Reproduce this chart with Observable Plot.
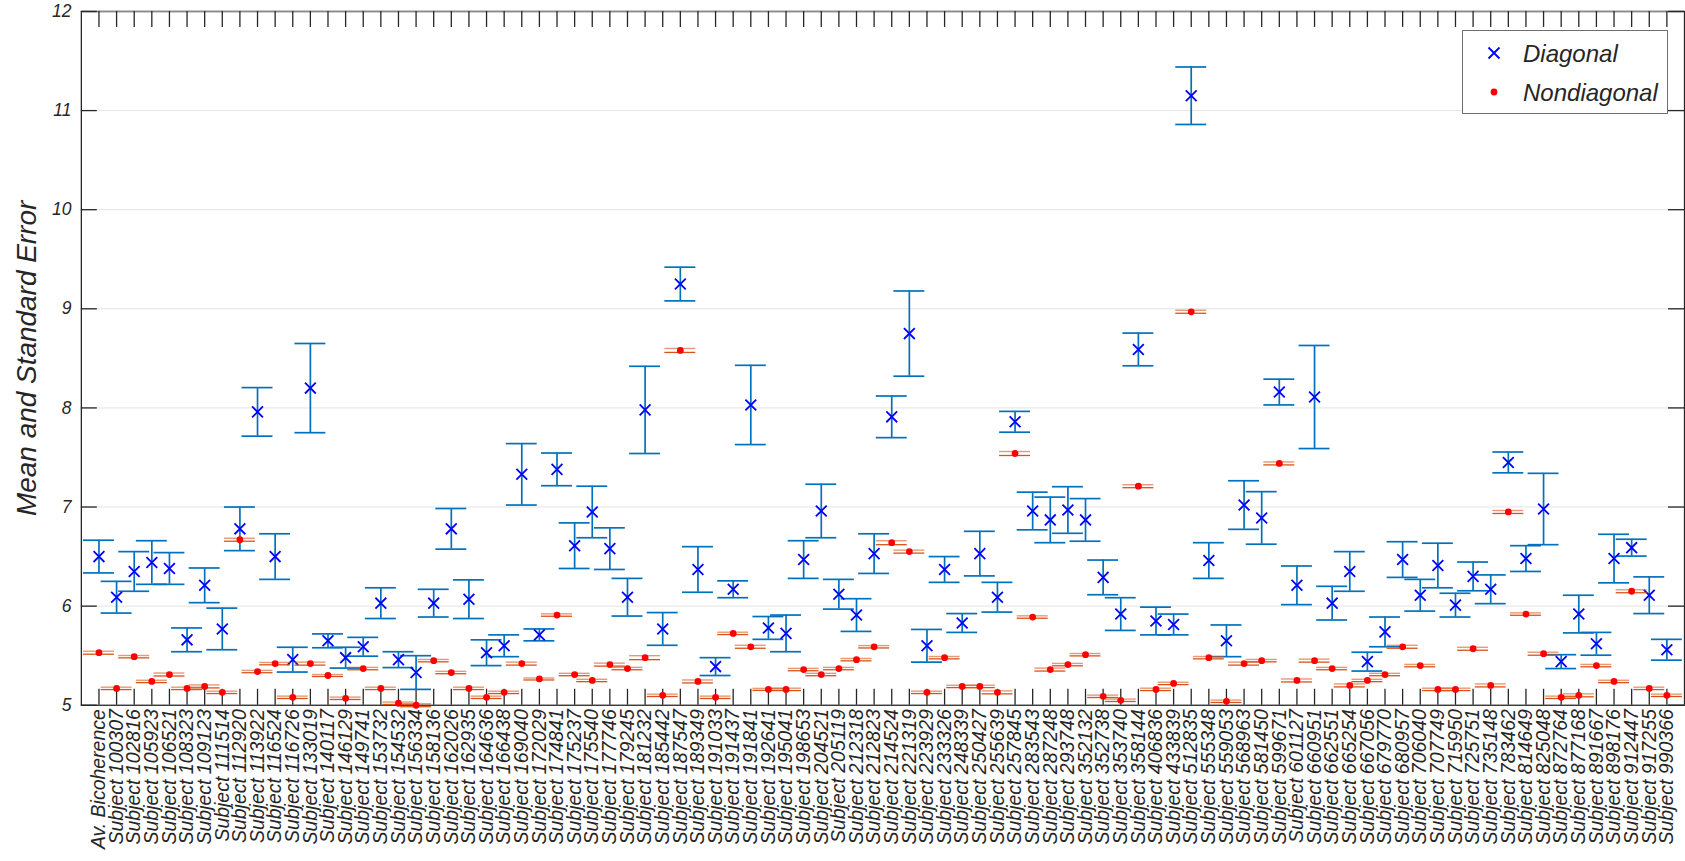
<!DOCTYPE html>
<html>
<head>
<meta charset="utf-8">
<script src="https://cdn.jsdelivr.net/npm/d3@7"></script>
<script src="https://cdn.jsdelivr.net/npm/@observablehq/plot@0.6"></script>
<style>
html, body { margin: 0; padding: 0; overflow: hidden; background: #fff; }
#wrap { position: relative; width: 1685px; height: 861px; overflow: hidden; }
#legend { position: absolute; left: 1462px; top: 30px; width: 206px; height: 84px; }
#legend text { font-family: "Liberation Sans", Arial, sans-serif; font-style: italic; font-size: 24px; fill: #262626; }
</style>
</head>
<body>
<div id="wrap">
  <div id="chart"></div>
  <div id="legend">
    <svg width="206" height="84">
      <rect x="0.5" y="0.5" width="205" height="83" fill="#ffffff" stroke="#6f6f6f" stroke-width="1"></rect>
      <path d="M26.5,17.5 L37.5,28.5 M26.5,28.5 L37.5,17.5" stroke="#0000ff" stroke-width="1.8" fill="none"></path>
      <circle cx="32" cy="62" r="3.4" fill="#ff0000"></circle>
      <text x="61" y="32">Diagonal</text>
      <text x="61" y="71">Nondiagonal</text>
    </svg>
  </div>
</div>
<script>
// ---- Data ----
const subjectIds = [
  "100307","102816","105923","106521","108323","109123","111514","112920","113922","116524",
  "116726","133019","140117","146129","149741","153732","154532","156334","158136","162026",
  "162935","164636","166438","169040","172029","174841","175237","175540","177746","179245",
  "181232","185442","187547","189349","191033","191437","191841","192641","195041","198653",
  "204521","205119","212318","212823","214524","221319","223929","233326","248339","250427",
  "255639","257845","283543","287248","293748","352132","352738","353740","358144","406836",
  "433839","512835","555348","559053","568963","581450","599671","601127","660951","662551",
  "665254","667056","679770","680957","706040","707749","715950","725751","735148","783462",
  "814649","825048","872764","877168","891667","898176","912447","917255","990366"
];
const categories = ["Av. Bicoherence", ...subjectIds.map(s => "Subject " + s)];

const diagonalMean = [
  6.50, 6.09, 6.35, 6.44, 6.38, 5.66, 6.21, 5.77, 6.78, 7.96,
  6.50, 5.46, 8.20, 5.65, 5.48, 5.59, 6.03, 5.46, 5.33, 6.03,
  6.78, 6.07, 5.53, 5.60, 7.33, 5.71, 7.38, 6.61, 6.95, 6.58,
  6.09, 7.98, 5.77, 9.25, 6.37, 5.39, 6.17, 8.03, 5.78, 5.725,
  6.47, 6.96, 6.12, 5.91, 6.53, 7.91, 8.75, 5.60, 6.37, 5.83,
  6.53, 6.09, 7.86, 6.96, 6.87, 6.97, 6.87, 6.29, 5.92, 8.59,
  5.85, 5.815, 11.15, 6.46, 5.65, 7.02, 6.89, 8.16, 6.21, 8.11,
  6.03, 6.35, 5.44, 5.74, 6.47, 6.11, 6.41, 6.01, 6.30, 6.17,
  7.45, 6.48, 6.98, 5.44, 5.92, 5.62, 6.48, 6.59, 6.11, 5.56
];
const diagonalSE = [
  0.165, 0.16, 0.20, 0.22, 0.16, 0.12, 0.175, 0.21, 0.22, 0.245,
  0.23, 0.125, 0.45, 0.07, 0.105, 0.095, 0.155, 0.08, 0.17, 0.14,
  0.205, 0.195, 0.13, 0.11, 0.31, 0.06, 0.165, 0.23, 0.26, 0.21,
  0.19, 0.44, 0.165, 0.17, 0.23, 0.09, 0.085, 0.40, 0.115, 0.185,
  0.19, 0.27, 0.15, 0.165, 0.20, 0.21, 0.43, 0.165, 0.13, 0.095,
  0.225, 0.15, 0.105, 0.19, 0.23, 0.235, 0.215, 0.175, 0.165, 0.165,
  0.14, 0.105, 0.29, 0.18, 0.16, 0.245, 0.265, 0.13, 0.195, 0.52,
  0.17, 0.20, 0.095, 0.15, 0.18, 0.16, 0.225, 0.12, 0.145, 0.145,
  0.105, 0.13, 0.36, 0.07, 0.19, 0.115, 0.245, 0.085, 0.185, 0.105
];
const nondiagonalMean = [
  5.53, 5.17, 5.49, 5.24, 5.31, 5.17, 5.19, 5.13, 6.67, 5.34,
  5.42, 5.08, 5.42, 5.30, 5.07, 5.37, 5.17, 5.02, 5.00, 5.45,
  5.33, 5.17, 5.08, 5.13, 5.42, 5.265, 5.91, 5.31, 5.25, 5.41,
  5.37, 5.48, 5.10, 8.58, 5.24, 5.08, 5.725, 5.59, 5.16, 5.16,
  5.36, 5.31, 5.37, 5.46, 5.59, 6.64, 6.55, 5.13, 5.48, 5.19,
  5.19, 5.13, 7.54, 5.89, 5.36, 5.41, 5.51, 5.09, 5.05, 7.21,
  5.16, 5.22, 8.97, 5.48, 5.04, 5.42, 5.45, 7.44, 5.25, 5.45,
  5.37, 5.20, 5.25, 5.31, 5.59, 5.40, 5.16, 5.16, 5.57, 5.20,
  6.95, 5.92, 5.52, 5.08, 5.10, 5.40, 5.24, 6.15, 5.17, 5.10
];
const nondiagonalSE = [
  0.015, 0.012, 0.012, 0.012, 0.015, 0.012, 0.015, 0.012, 0.015, 0.012,
  0.012, 0.012, 0.015, 0.010, 0.012, 0.012, 0.012, 0.012, 0.015, 0.012,
  0.012, 0.012, 0.012, 0.012, 0.015, 0.010, 0.012, 0.012, 0.012, 0.015,
  0.012, 0.020, 0.012, 0.020, 0.015, 0.012, 0.012, 0.015, 0.010, 0.012,
  0.012, 0.012, 0.012, 0.012, 0.012, 0.020, 0.015, 0.012, 0.012, 0.012,
  0.012, 0.015, 0.020, 0.012, 0.015, 0.012, 0.012, 0.012, 0.012, 0.015,
  0.012, 0.012, 0.015, 0.012, 0.012, 0.015, 0.012, 0.015, 0.015, 0.015,
  0.012, 0.015, 0.012, 0.012, 0.015, 0.012, 0.012, 0.012, 0.015, 0.015,
  0.015, 0.012, 0.015, 0.012, 0.015, 0.012, 0.012, 0.015, 0.012, 0.012
];
const yTicks = [5, 6, 7, 8, 9, 10, 11, 12];
const gridValues = [6, 7, 8, 9, 10, 11];
const yLabel = "Mean and Standard Error";

// ---- Table ----
const rows = categories.map((c, i) => ({
  c, dm: diagonalMean[i], ds: diagonalSE[i], nm: nondiagonalMean[i], ns: nondiagonalSE[i]
}));

const W = 1688, H = 861, mL = 81, mR = 1, mT = 11, mB = 155;
const innerW = W - mL - mR, innerH = H - mT - mB;
const tickLen = 16;
const ink = "#262626";
const blueBar = "#0072bd", blueMark = "#0000ff";
const redBar = "#d95319", redMark = "#ff0000";
const bandW = innerW / (categories.length + 1);
const capInset = -(15.5 - bandW / 2);

const chart = Plot.plot({
  width: W, height: H,
  marginLeft: mL, marginRight: mR, marginTop: mT, marginBottom: mB,
  style: { fontFamily: "'Liberation Sans', Arial, sans-serif", fontStyle: "italic", background: "#ffffff", color: ink, overflow: "visible" },
  x: { type: "band", domain: categories, paddingInner: 0, paddingOuter: 0.5, align: 0.5 },
  y: { domain: [5, 12] },
  marks: [
    Plot.ruleY(gridValues, { stroke: "#e3e3e3", strokeWidth: 1 }),
    Plot.frame({ stroke: ink, strokeWidth: 1.3 }),
    Plot.ruleY([12], { stroke: "#8c8c8c", strokeWidth: 1.3 }),
    // inward ticks
    Plot.tickX(categories, { x: d => d, insetTop: innerH - tickLen, stroke: ink, strokeWidth: 1.3 }),
    Plot.tickX(categories, { x: d => d, insetBottom: innerH - tickLen, stroke: ink, strokeWidth: 1.3 }),
    Plot.tickY(yTicks, { y: d => d, insetRight: innerW - tickLen, stroke: ink, strokeWidth: 1.3 }),
    Plot.tickY(yTicks, { y: d => d, insetLeft: innerW - tickLen, stroke: ink, strokeWidth: 1.3 }),
    // axes (labels only)
    Plot.axisX({ anchor: "bottom", tickSize: 0, tickPadding: 4, tickRotate: -90, fontSize: 19.5, label: null, fill: ink }),
    Plot.axisY({ anchor: "left", ticks: yTicks, tickFormat: d => String(d), tickSize: 0, tickPadding: 10, fontSize: 17.5, label: null, fill: ink }),
    Plot.text([yLabel], { text: d => d, frameAnchor: "left", dx: -54, rotate: -90, fontSize: 28, fill: ink, lineAnchor: "middle", textAnchor: "middle" }),
    // Diagonal error bars
    Plot.ruleX(rows, { x: "c", y1: d => d.dm - d.ds, y2: d => d.dm + d.ds, stroke: blueBar, strokeWidth: 1.7 }),
    Plot.tickY(rows, { x: "c", y: d => d.dm + d.ds, insetLeft: capInset, insetRight: capInset, stroke: blueBar, strokeWidth: 1.7 }),
    Plot.tickY(rows, { x: "c", y: d => d.dm - d.ds, insetLeft: capInset, insetRight: capInset, stroke: blueBar, strokeWidth: 1.7 }),
    Plot.dot(rows, { x: "c", y: "dm", symbol: "times", r: 5, stroke: blueMark, strokeWidth: 1.8, fill: "none" }),
    // Nondiagonal error bars
    Plot.ruleX(rows, { x: "c", y1: d => d.nm - d.ns, y2: d => d.nm + d.ns, stroke: redBar, strokeWidth: 1.3 }),
    Plot.tickY(rows, { x: "c", y: d => d.nm + d.ns, insetLeft: capInset, insetRight: capInset, stroke: redBar, strokeWidth: 1.4, strokeOpacity: 0.6 }),
    Plot.tickY(rows, { x: "c", y: d => d.nm - d.ns, insetLeft: capInset, insetRight: capInset, stroke: redBar, strokeWidth: 1.3 }),
    Plot.dot(rows, { x: "c", y: "nm", r: 3.4, fill: redMark, stroke: "none" })
  ]
});
document.getElementById("chart").appendChild(chart);
</script>
</body>
</html>
